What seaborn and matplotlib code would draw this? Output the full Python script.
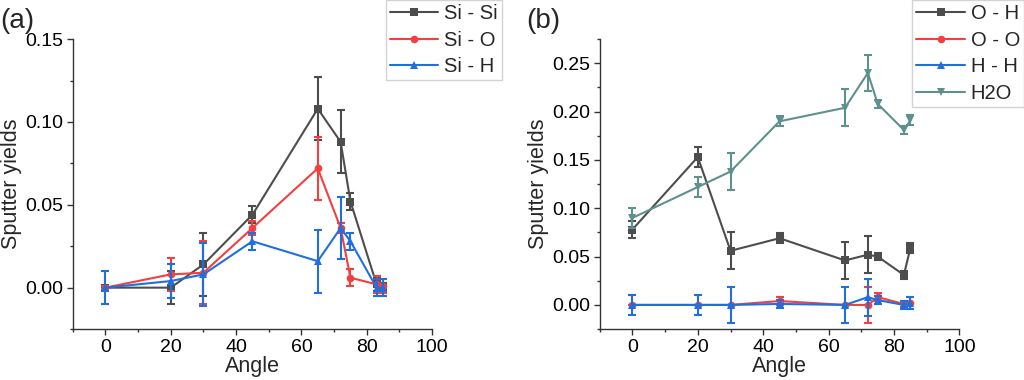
import numpy as np
import pandas as pd
import matplotlib
matplotlib.use("Agg")
import matplotlib.pyplot as plt
import seaborn as sns
from matplotlib.ticker import MultipleLocator

# angles shared by all series
angle = [0, 20, 30, 45, 65, 72, 75, 83, 85]

# panel (a)
si_si = [0.000, 0.000, 0.014, 0.044, 0.108, 0.088, 0.052, 0.002, 0.000]
si_si_err = [0.000, 0.010, 0.019, 0.005, 0.019, 0.019, 0.005, 0.004, 0.003]
si_o = [0.000, 0.008, 0.009, 0.036, 0.072, 0.036, 0.006, 0.002, 0.001]
si_o_err = [0.001, 0.010, 0.019, 0.004, 0.019, 0.003, 0.005, 0.005, 0.004]
si_h = [0.000, 0.004, 0.008, 0.028, 0.016, 0.036, 0.028, 0.000, 0.000]
si_h_err = [0.010, 0.010, 0.019, 0.005, 0.019, 0.019, 0.005, 0.005, 0.005]

# panel (b)
o_h = [0.078, 0.153, 0.056, 0.069, 0.046, 0.052, 0.050, 0.031, 0.059]
o_h_err = [0.009, 0.010, 0.019, 0.005, 0.019, 0.019, 0.004, 0.004, 0.005]
o_o = [0.000, 0.000, 0.000, 0.004, 0.000, 0.000, 0.008, 0.001, 0.002]
o_o_err = [0.000, 0.000, 0.000, 0.004, 0.000, 0.019, 0.004, 0.003, 0.006]
h_h = [0.000, 0.000, 0.000, 0.001, 0.000, 0.008, 0.005, 0.000, 0.002]
h_h_err = [0.010, 0.010, 0.019, 0.004, 0.019, 0.019, 0.004, 0.004, 0.006]
h2o = [0.090, 0.122, 0.138, 0.190, 0.204, 0.240, 0.208, 0.181, 0.191]
h2o_err = [0.010, 0.010, 0.019, 0.005, 0.019, 0.019, 0.004, 0.004, 0.005]

gray, red, blue, teal = '#4d4d4d', '#f24040', '#1f6fe0', '#5e918d'

sns.set_theme(style="ticks")
plt.rcParams['font.family'] = ['Liberation Sans', 'DejaVu Sans']

fig = plt.figure(figsize=(10.24, 3.8), dpi=100)
ax1 = fig.add_axes([0.071, 0.134, 0.351, 0.763])
ax2 = fig.add_axes([0.5856, 0.134, 0.3514, 0.763])


def draw(ax, name, y, err, color, marker):
    df = pd.DataFrame({'Angle': angle, 'y': y})
    sns.lineplot(data=df, x='Angle', y='y', color=color, marker=marker,
                 markersize=5.5, markeredgewidth=0, linewidth=1.5,
                 label=name, ax=ax, errorbar=None)
    ax.errorbar(angle, y, yerr=err, fmt='none', ecolor=color,
                elinewidth=1.5, capsize=3, capthick=1.5)


draw(ax1, 'Si - Si', si_si, si_si_err, gray, 's')
draw(ax1, 'Si - O', si_o, si_o_err, red, 'o')
draw(ax1, 'Si - H', si_h, si_h_err, blue, '^')

draw(ax2, 'O - H', o_h, o_h_err, gray, 's')
draw(ax2, 'O - O', o_o, o_o_err, red, 'o')
draw(ax2, 'H - H', h_h, h_h_err, blue, '^')
draw(ax2, 'H2O', h2o, h2o_err, teal, 'v')

ax1.set_ylim(-0.025, 0.15)
ax1.yaxis.set_major_locator(MultipleLocator(0.05))
ax1.yaxis.set_minor_locator(MultipleLocator(0.025))
ax2.set_ylim(-0.025, 0.275)
ax2.yaxis.set_major_locator(MultipleLocator(0.05))
ax2.yaxis.set_minor_locator(MultipleLocator(0.025))

for ax in (ax1, ax2):
    ax.set_xlim(-10, 100)
    ax.xaxis.set_major_locator(MultipleLocator(20))
    ax.xaxis.set_minor_locator(MultipleLocator(10))
    ax.yaxis.set_major_formatter(plt.FormatStrFormatter('%.2f'))
    sns.despine(ax=ax)
    for s in ('left', 'bottom'):
        ax.spines[s].set_color('#333333')
        ax.spines[s].set_linewidth(1.0)
    ax.tick_params(which='major', length=4, width=1, labelsize=14,
                   colors='#333333', labelcolor='black', pad=3)
    ax.tick_params(which='minor', length=2.5, width=1, colors='#333333')
    ax.set_xlabel('Angle', fontsize=15.5, labelpad=0)
    ax.set_ylabel('Sputter yields', fontsize=15.5, labelpad=2)

leg_kw = dict(bbox_transform=fig.transFigure, loc='upper left',
              fontsize=14.5, frameon=True, fancybox=False,
              handlelength=2.4, handletextpad=0.3, borderpad=0.2,
              labelspacing=0.38, borderaxespad=0)
leg1 = ax1.legend(bbox_to_anchor=(0.377, 1.0), **leg_kw)
leg2 = ax2.legend(bbox_to_anchor=(0.891, 1.0), **leg_kw)
for leg in (leg1, leg2):
    leg.get_frame().set_edgecolor('#c8c8c8')
    leg.get_frame().set_linewidth(1.0)

fig.text(0.0, 0.945, '(a)', fontsize=20, va='center', ha='left')
fig.text(0.514, 0.945, '(b)', fontsize=20, va='center', ha='left')

fig.savefig('out.png', dpi=100)
